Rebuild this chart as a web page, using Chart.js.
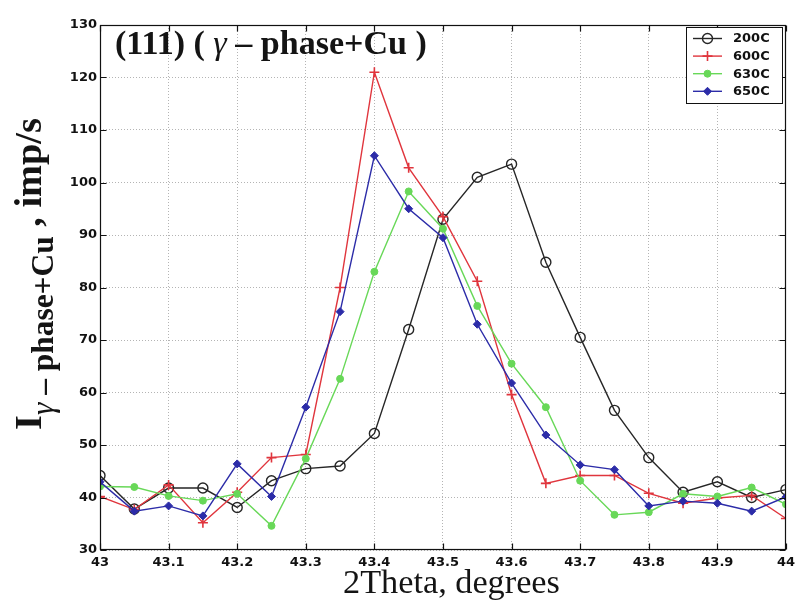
<!DOCTYPE html>
<html><head><meta charset="utf-8">
<script src="https://cdn.jsdelivr.net/npm/chart.js@4.4.0/dist/chart.umd.min.js"></script>
<style>html,body{margin:0;padding:0;background:#fff;}#wrap{width:800px;height:615px;}</style>
</head><body><div id="wrap"><canvas id="c" width="800" height="615"></canvas></div>
<script>
const angles = [43.00,43.05,43.10,43.15,43.20,43.25,43.30,43.35,43.40,43.45,43.50,43.55,43.60,43.65,43.70,43.75,43.80,43.85,43.90,43.95,44.00];
const s200C = [44.2,37.8,41.8,41.8,38.1,43.2,45.5,46.0,52.2,72.0,93.0,101.0,103.5,84.8,70.5,56.6,47.6,41.0,43.0,40.0,41.5];
const s600C = [40.2,37.7,42.4,35.2,41.0,47.6,48.2,80.0,121.0,102.8,93.5,81.2,59.6,42.7,44.2,44.2,40.8,38.9,39.9,40.4,36.0];
const s630C = [42.1,42.0,40.3,39.4,40.7,34.6,47.4,62.6,83.0,98.3,91.2,76.5,65.5,57.2,43.2,36.7,37.2,40.7,40.2,41.9,38.7];
const s650C = [43.0,37.4,38.4,36.5,46.4,40.2,57.2,75.4,105.1,95.0,89.5,73.0,61.8,51.9,46.2,45.3,38.4,39.3,38.9,37.4,40.1];
const seriesNames = ['200C','600C','630C','650C'];
const xTicks = [43,43.1,43.2,43.3,43.4,43.5,43.6,43.7,43.8,43.9,44];
const xTickLabels = ['43','43.1','43.2','43.3','43.4','43.5','43.6','43.7','43.8','43.9','44'];
const yTicks = [30,40,50,60,70,80,90,100,110,120,130];
const yTickLabels = ['30','40','50','60','70','80','90','100','110','120','130'];

const seriesValues = [s200C, s600C, s630C, s650C];
const colors = ['#262626','#e0353d','#68d858','#2c2ca8'];
const marks = [
  {style:'circle', r:5, fill:'rgba(255,255,255,0)', bw:1.4},
  {style:'cross', r:5, fill:colors[1], bw:1.6},
  {style:'circle', r:3.5, fill:colors[2], bw:1},
  {style:'rectRot', r:4, fill:colors[3], bw:1}
];

const datasets = seriesValues.map((vals,i)=>({
  label: seriesNames[i],
  data: angles.map((a,j)=>({x:a, y:vals[j]})),
  borderColor: colors[i],
  backgroundColor: marks[i].fill,
  borderWidth: 1.4,
  pointStyle: marks[i].style,
  pointRadius: marks[i].r,
  pointBorderWidth: marks[i].bw,
  pointBorderColor: colors[i],
  pointBackgroundColor: marks[i].fill,
  tension: 0,
  order: 3 - i
}));

const tickFont = {family:'"DejaVu Sans"', weight:'bold', size:13};

function drawMarker(ctx, m, color, x, y) {
  ctx.save();
  ctx.strokeStyle = color; ctx.fillStyle = m.fill; ctx.lineWidth = m.bw;
  ctx.beginPath();
  if (m.style === 'circle') { ctx.arc(x, y, m.r, 0, Math.PI*2); ctx.fill(); ctx.stroke(); }
  else if (m.style === 'cross') { ctx.moveTo(x-m.r,y); ctx.lineTo(x+m.r,y); ctx.moveTo(x,y-m.r); ctx.lineTo(x,y+m.r); ctx.stroke(); }
  else { ctx.moveTo(x,y-m.r); ctx.lineTo(x+m.r,y); ctx.lineTo(x,y+m.r); ctx.lineTo(x-m.r,y); ctx.closePath(); ctx.fill(); ctx.stroke(); }
  ctx.restore();
}

function fitPieces(ctx, pieces, base, target) {
  let w = 0;
  pieces.forEach(p=>{ ctx.font = p.st + ' ' + (base*p.k) + 'px "Liberation Serif"'; w += ctx.measureText(p.t).width; });
  return base * target / w;
}
function drawPieces(ctx, pieces, size) {
  let x = 0;
  pieces.forEach(p=>{
    ctx.font = p.st + ' ' + (size*p.k) + 'px "Liberation Serif"';
    ctx.fillText(p.t, x, p.dy);
    x += ctx.measureText(p.t).width;
  });
}

const decor = {
  id: 'decor',
  afterDraw(chart) {
    const ctx = chart.ctx, ca = chart.chartArea;
    const xs = chart.scales.x, ys = chart.scales.y;
    ctx.save();
    // frame
    const L = Math.round(ca.left)+0.5, R = Math.round(ca.right)-0.5, T = Math.round(ca.top)+0.5, B = Math.round(ca.bottom)-0.5;
    ctx.strokeStyle = '#111'; ctx.lineWidth = 1.2;
    ctx.strokeRect(L, T, R-L, B-T);
    ctx.beginPath();
    xTicks.forEach(v=>{ const p = Math.round(xs.getPixelForValue(v))+0.5; ctx.moveTo(p,B); ctx.lineTo(p,B-6); ctx.moveTo(p,T); ctx.lineTo(p,T+6); });
    yTicks.forEach(v=>{ const p = Math.round(ys.getPixelForValue(v))+0.5; ctx.moveTo(L,p); ctx.lineTo(L+6,p); ctx.moveTo(R,p); ctx.lineTo(R-6,p); });
    ctx.stroke();

    ctx.fillStyle = '#141414';
    ctx.textBaseline = 'alphabetic'; ctx.textAlign = 'left';
    // title inside plot
    const tp = [{t:'(111) ( ', st:'bold', k:1, dy:0},{t:'\u03B3', st:'italic', k:1, dy:0},{t:' \u2013 phase+Cu )', st:'bold', k:1, dy:0}];
    const tsz = fitPieces(ctx, tp, 30, 312);
    ctx.save(); ctx.translate(115, 54); drawPieces(ctx, tp, tsz); ctx.restore();

    // x title
    const xp = [{t:'2Theta, degrees', st:'normal', k:1, dy:0}];
    const xsz = fitPieces(ctx, xp, 33, 217);
    ctx.save(); ctx.translate(343, 593); drawPieces(ctx, xp, xsz); ctx.restore();

    // y title (rotated)
    const yp = [
      {t:'I', st:'bold', k:1, dy:0},
      {t:'\u03B3', st:'italic', k:0.82, dy:12},
      {t:' \u2013 phase+Cu', st:'bold', k:0.82, dy:12},
      {t:' , imp/s', st:'bold', k:1, dy:0}
    ];
    const ysz = fitPieces(ctx, yp, 34, 312);
    ctx.save(); ctx.translate(41, 430); ctx.rotate(-Math.PI/2); drawPieces(ctx, yp, ysz); ctx.restore();

    // legend
    ctx.fillStyle = '#fff'; ctx.fillRect(686, 27, 96, 76);
    ctx.strokeStyle = '#111'; ctx.lineWidth = 1; ctx.strokeRect(686.5, 27.5, 96, 76);
    seriesNames.forEach((n,i)=>{
      const y = 38.5 + i*17.6;
      ctx.strokeStyle = colors[i]; ctx.lineWidth = 1.4;
      ctx.beginPath(); ctx.moveTo(693, y); ctx.lineTo(722, y); ctx.stroke();
      drawMarker(ctx, marks[i], colors[i], 707.5, y);
      ctx.fillStyle = '#111'; ctx.font = 'bold 13px "DejaVu Sans"'; ctx.textBaseline = 'middle';
      ctx.fillText(n, 733, y+0.5);
    });
    ctx.restore();
  }
};

new Chart(document.getElementById('c'), {
  type: 'line',
  data: { datasets },
  options: {
    responsive: false, animation: false, events: [],
    layout: { padding: { top: 25, right: 9, left: 0, bottom: 0 } },
    plugins: { legend: { display: false }, tooltip: { enabled: false }, title: { display: false } },
    scales: {
      x: {
        type: 'linear', min: 43, max: 44,
        afterBuildTicks: s => { s.ticks = xTicks.map(v=>({value:v})); },
        afterFit: s => { s.height = 65; },
        ticks: { callback: (v,i) => xTickLabels[i], font: tickFont, color: '#111', padding: 5, maxRotation: 0, autoSkip: false },
        grid: { color: '#b4b4b4', lineWidth: 1, drawTicks: false },
        border: { display: false, dash: [1,2] }
      },
      y: {
        type: 'linear', min: 30, max: 130,
        afterBuildTicks: s => { s.ticks = yTicks.map(v=>({value:v})); },
        afterFit: s => { s.width = 100; },
        ticks: { callback: (v,i) => yTickLabels[i], font: tickFont, color: '#111', padding: 3, autoSkip: false },
        grid: { color: '#b4b4b4', lineWidth: 1, drawTicks: false },
        border: { display: false, dash: [1,2] }
      }
    }
  },
  plugins: [decor]
});
</script>
</body></html>
